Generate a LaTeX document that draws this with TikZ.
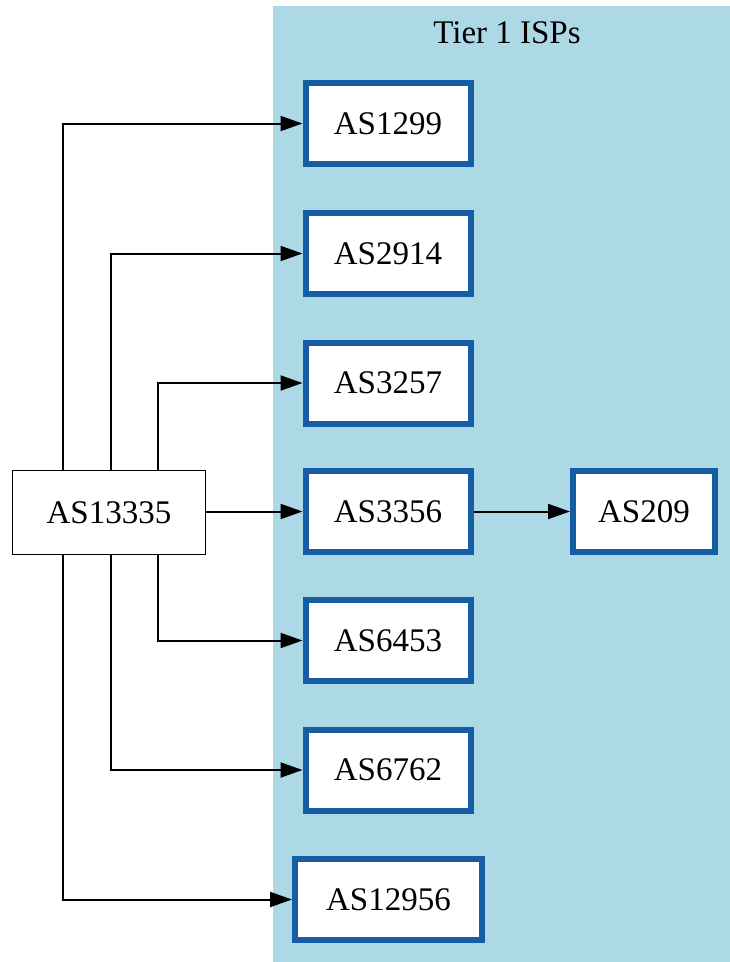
\documentclass[tikz,border=0pt]{standalone}
\usepackage{fontspec}
\setmainfont{Liberation Serif}
\usetikzlibrary{arrows.meta}
\definecolor{clusterblue}{RGB}{173,216,230}
\definecolor{isp}{RGB}{22,94,164}
\begin{document}
\begin{tikzpicture}[x=1pt,y=1pt,
  every node/.style={font=\fontsize{33}{36}\selectfont, inner sep=0pt},
  ispbox/.style={draw=isp, line width=6pt, fill=white, minimum width=165pt, minimum height=81pt},
  plainbox/.style={draw=black, line width=1.6pt, fill=white, minimum width=193pt, minimum height=84pt},
  link/.style={draw=black, line width=2pt, -{Triangle[length=22pt,width=15pt]}}]
\useasboundingbox (0,0) rectangle (730,-962);
\fill[white] (0,0) rectangle (730,-962);
\fill[clusterblue] (273,-6) rectangle (730,-962);
\node (title) at (507,-33) {Tier 1 ISPs};
\node[ispbox] (a1299) at (388,-123.5) {AS1299};
\node[ispbox] (a2914) at (388,-253.5) {AS2914};
\node[ispbox] (a3257) at (388,-383) {AS3257};
\node[ispbox] (a3356) at (388,-511.5) {AS3356};
\node[ispbox] (a6453) at (388,-640.5) {AS6453};
\node[ispbox] (a6762) at (388,-770) {AS6762};
\node[ispbox, minimum width=187pt] (a12956) at (388.5,-899.5) {AS12956};
\node[ispbox, minimum width=142pt] (a209) at (644,-511.5) {AS209};
\node[plainbox] (a13335) at (109,-512.5) {AS13335};
\draw[link] (a13335.north -| 63,0) |- (a1299.west);
\draw[link] (a13335.north -| 110.5,0) |- (a2914.west);
\draw[link] (a13335.north -| 158,0) |- (a3257.west);
\draw[link] (a13335.east |- a3356) -- (a3356.west);
\draw[link] (a13335.south -| 158,0) |- (a6453.west);
\draw[link] (a13335.south -| 110.5,0) |- (a6762.west);
\draw[link] (a13335.south -| 63,0) |- (a12956.west);
\draw[link] (a3356.east) -- (a209.west);
\end{tikzpicture}
\end{document}
